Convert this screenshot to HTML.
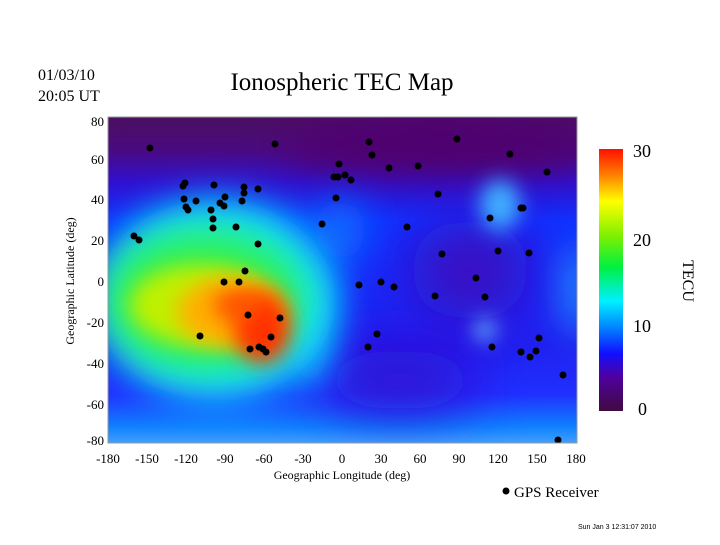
<!DOCTYPE html>
<html><head><style>
body{margin:0;background:#fff;width:720px;height:540px;overflow:hidden;font-family:"Liberation Serif",serif;}
</style></head><body>
<svg width="720" height="540" xmlns="http://www.w3.org/2000/svg" font-family="Liberation Serif, serif">
<defs>
<clipPath id="c"><rect x="108" y="117" width="469" height="326"/></clipPath>
<filter id="b0" filterUnits="userSpaceOnUse" x="0" y="0" width="720" height="540"><feGaussianBlur stdDeviation="28"/></filter>
<filter id="b1" filterUnits="userSpaceOnUse" x="0" y="0" width="720" height="540"><feGaussianBlur stdDeviation="18"/></filter>
<filter id="b2" filterUnits="userSpaceOnUse" x="0" y="0" width="720" height="540"><feGaussianBlur stdDeviation="10"/></filter>
<linearGradient id="bg" x1="0" y1="0" x2="0" y2="1">
<stop offset="0" stop-color="#4a1060"/><stop offset="0.1" stop-color="#4a0a80"/><stop offset="0.2" stop-color="#3010d0"/><stop offset="0.32" stop-color="#1030ff"/>
<stop offset="0.7" stop-color="#2020f0"/><stop offset="0.85" stop-color="#2030ff"/><stop offset="0.95" stop-color="#1080ff"/><stop offset="1" stop-color="#40a0ff"/></linearGradient>
<linearGradient id="cb" x1="0" y1="1" x2="0" y2="0">
<stop offset="0" stop-color="#400a40"/><stop offset="0.13" stop-color="#5000a0"/><stop offset="0.22" stop-color="#1010ff"/><stop offset="0.33" stop-color="#0090ff"/><stop offset="0.42" stop-color="#00f0ff"/><stop offset="0.55" stop-color="#00f040"/><stop offset="0.67" stop-color="#80f000"/><stop offset="0.8" stop-color="#ffff00"/><stop offset="0.9" stop-color="#ff8000"/><stop offset="1" stop-color="#ff1000"/></linearGradient>
</defs>
<g clip-path="url(#c)">
<rect x="108" y="117" width="469" height="326" fill="url(#bg)"/>
<ellipse cx="440" cy="145" rx="160" ry="30" fill="#500070" filter="url(#b1)"/>
<ellipse cx="470" cy="270" rx="60" ry="50" fill="#3a10c0" filter="url(#b0)"/>
<ellipse cx="400" cy="380" rx="80" ry="30" fill="#3010d0" filter="url(#b0)"/>
<ellipse cx="500" cy="205" rx="20" ry="25" fill="#40b0ff" filter="url(#b2)"/>
<ellipse cx="485" cy="330" rx="10" ry="10" fill="#70d0ff" filter="url(#b2)"/>
<ellipse cx="340" cy="230" rx="25" ry="30" fill="#1070ff" filter="url(#b1)"/>
<ellipse cx="310" cy="330" rx="20" ry="60" fill="#10a0ff" filter="url(#b1)"/>
<ellipse cx="578" cy="290" rx="12" ry="45" fill="#20b0ff" filter="url(#b1)"/>
<ellipse cx="215" cy="300" rx="120" ry="100" fill="#10e8ff" filter="url(#b1)"/>
<ellipse cx="205" cy="300" rx="100" ry="70" fill="#30f050" filter="url(#b1)"/>
<ellipse cx="200" cy="305" rx="70" ry="40" fill="#c0f000" filter="url(#b2)"/>
<ellipse cx="232" cy="312" rx="55" ry="35" fill="#ffb000" filter="url(#b2)"/>
<ellipse cx="262" cy="328" rx="28" ry="35" fill="#ff3000" filter="url(#b2)"/>
<ellipse cx="238" cy="305" rx="25" ry="15" fill="#ff5000" filter="url(#b2)"/>
<g fill="#000">
<circle cx="150" cy="148" r="3.5"/><circle cx="275" cy="144" r="3.5"/><circle cx="183" cy="186" r="3.5"/><circle cx="185" cy="183" r="3.5"/><circle cx="184" cy="199" r="3.5"/><circle cx="186" cy="207" r="3.5"/><circle cx="188" cy="210" r="3.5"/><circle cx="196" cy="201" r="3.5"/><circle cx="214" cy="185" r="3.5"/><circle cx="211" cy="210" r="3.5"/><circle cx="220" cy="203" r="3.5"/><circle cx="225" cy="197" r="3.5"/><circle cx="224" cy="206" r="3.5"/><circle cx="244" cy="187" r="3.5"/><circle cx="244" cy="193" r="3.5"/><circle cx="242" cy="201" r="3.5"/><circle cx="258" cy="189" r="3.5"/><circle cx="213" cy="219" r="3.5"/><circle cx="213" cy="228" r="3.5"/><circle cx="236" cy="227" r="3.5"/><circle cx="258" cy="244" r="3.5"/><circle cx="134" cy="236" r="3.5"/><circle cx="139" cy="240" r="3.5"/><circle cx="224" cy="282" r="3.5"/><circle cx="239" cy="282" r="3.5"/><circle cx="245" cy="271" r="3.5"/><circle cx="248" cy="315" r="3.5"/><circle cx="200" cy="336" r="3.5"/><circle cx="280" cy="318" r="3.5"/><circle cx="259" cy="347" r="3.5"/><circle cx="250" cy="349" r="3.5"/><circle cx="266" cy="352" r="3.5"/><circle cx="263" cy="349" r="3.5"/><circle cx="271" cy="337" r="3.5"/><circle cx="322" cy="224" r="3.5"/><circle cx="336" cy="198" r="3.5"/><circle cx="338" cy="177" r="3.5"/><circle cx="339" cy="164" r="3.5"/><circle cx="334" cy="177" r="3.5"/><circle cx="345" cy="175" r="3.5"/><circle cx="351" cy="180" r="3.5"/><circle cx="369" cy="142" r="3.5"/><circle cx="372" cy="155" r="3.5"/><circle cx="389" cy="168" r="3.5"/><circle cx="418" cy="166" r="3.5"/><circle cx="457" cy="139" r="3.5"/><circle cx="510" cy="154" r="3.5"/><circle cx="547" cy="172" r="3.5"/><circle cx="407" cy="227" r="3.5"/><circle cx="438" cy="194" r="3.5"/><circle cx="442" cy="254" r="3.5"/><circle cx="490" cy="218" r="3.5"/><circle cx="521" cy="208" r="3.5"/><circle cx="523" cy="208" r="3.5"/><circle cx="498" cy="251" r="3.5"/><circle cx="529" cy="253" r="3.5"/><circle cx="476" cy="278" r="3.5"/><circle cx="485" cy="297" r="3.5"/><circle cx="435" cy="296" r="3.5"/><circle cx="394" cy="287" r="3.5"/><circle cx="381" cy="282" r="3.5"/><circle cx="359" cy="285" r="3.5"/><circle cx="377" cy="334" r="3.5"/><circle cx="368" cy="347" r="3.5"/><circle cx="492" cy="347" r="3.5"/><circle cx="521" cy="352" r="3.5"/><circle cx="530" cy="357" r="3.5"/><circle cx="536" cy="351" r="3.5"/><circle cx="539" cy="338" r="3.5"/><circle cx="563" cy="375" r="3.5"/><circle cx="558" cy="440" r="3.5"/>
</g>
</g>
<rect x="108" y="117" width="469" height="326" fill="none" stroke="#999" stroke-width="1"/>
<g font-size="13" fill="#000" text-anchor="end">
<text x="104" y="126">80</text><text x="104" y="164">60</text><text x="104" y="204">40</text><text x="104" y="245">20</text><text x="104" y="286">0</text><text x="104" y="327">-20</text><text x="104" y="368">-40</text><text x="104" y="409">-60</text><text x="104" y="445">-80</text>
</g>
<g font-size="13" fill="#000" text-anchor="middle">
<text x="108" y="463">-180</text><text x="147" y="463">-150</text><text x="186" y="463">-120</text><text x="225" y="463">-90</text><text x="264" y="463">-60</text><text x="303" y="463">-30</text><text x="342" y="463">0</text><text x="381" y="463">30</text><text x="420" y="463">60</text><text x="459" y="463">90</text><text x="498" y="463">120</text><text x="537" y="463">150</text><text x="576" y="463">180</text>
<text x="342" y="479" font-size="12">Geographic Longitude (deg)</text>
</g>
<text x="74" y="281" font-size="12" text-anchor="middle" transform="rotate(-90 74 281)">Geographic Latitude (deg)</text>
<text x="342" y="90" font-size="25" text-anchor="middle">Ionospheric TEC Map</text>
<text x="38" y="80" font-size="16">01/03/10</text>
<text x="38" y="101" font-size="16">20:05 UT</text>
<rect x="599" y="149" width="24" height="262" fill="url(#cb)"/>
<g font-size="18" fill="#000">
<text x="633" y="157">30</text><text x="633" y="246">20</text><text x="633" y="332">10</text><text x="638" y="415">0</text>
</g>
<text x="683" y="281" font-size="16" text-anchor="middle" transform="rotate(90 683 281)">TECU</text>
<circle cx="506" cy="491" r="3.5" fill="#000"/>
<text x="514" y="497" font-size="15">GPS Receiver</text>
<text x="578" y="529" font-size="7" font-family="Liberation Sans, sans-serif">Sun Jan  3 12:31:07 2010</text>
</svg>
</body></html>
